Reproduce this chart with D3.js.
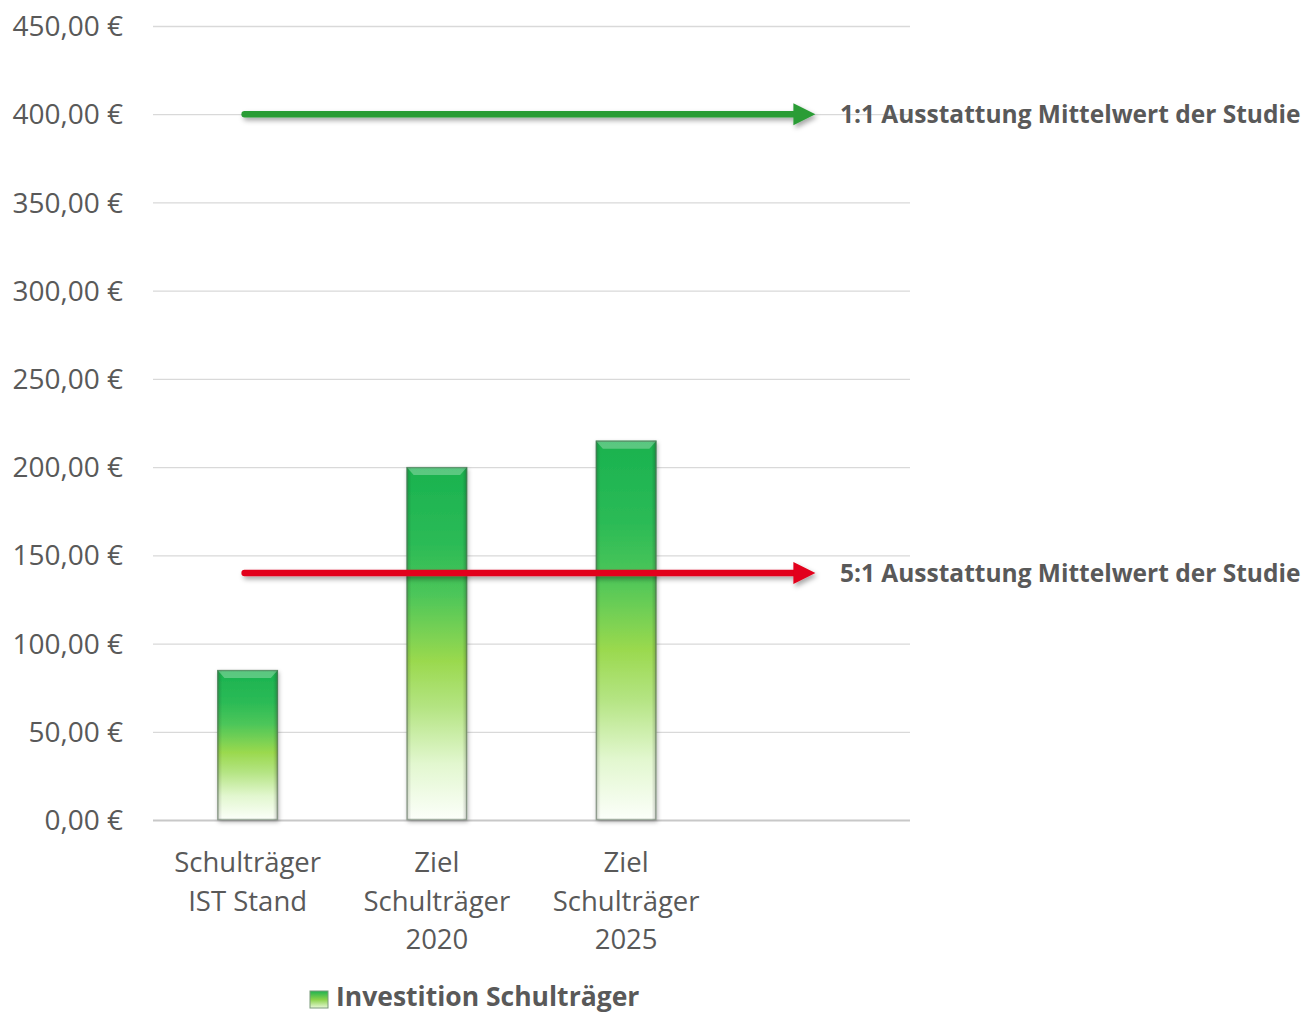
<!DOCTYPE html>
<html><head><meta charset="utf-8">
<script src="https://cdn.jsdelivr.net/npm/d3@7"></script>
<style>body{margin:0;background:#fff}svg{display:block}</style>
</head><body>
<svg id="chart" width="1306" height="1015"></svg>
<script>
const categories = [["Schulträger","IST Stand"],["Ziel","Schulträger","2020"],["Ziel","Schulträger","2025"],[""]];
const values = [85, 200, 215];
const yTicks = [0,50,100,150,200,250,300,350,400,450];
const refLines = [
  {value:400, label:"1:1 Ausstattung Mittelwert der Studie", color:"#2a9c36"},
  {value:140, label:"5:1 Ausstattung Mittelwert der Studie", color:"#e2001a"}
];
const legendLabel = "Investition Schulträger";

const svg = d3.select("#chart");
const font = "'Open Sans', sans-serif";
const txt = "#595959";
const x0 = 153, x1 = 910, yTop = 26, yBot = 820;

const x = d3.scaleBand().domain(d3.range(categories.length)).range([x0,x1]).paddingInner(0.68).paddingOuter(0.34);
const y = d3.scaleLinear().domain([0,450]).range([yBot,yTop]);

const defs = svg.append("defs");
const g = defs.append("linearGradient").attr("id","barGrad").attr("x1",0).attr("y1",0).attr("x2",0).attr("y2",1);
[[0,"#19b24f"],[0.22,"#2cbb56"],[0.36,"#4cc65a"],[0.55,"#9ad94e"],[0.68,"#b4e482"],[0.84,"#e2f7cf"],[1,"#fcfffa"]].forEach(([o,c])=>g.append("stop").attr("offset",o).attr("stop-color",c));
const sh = defs.append("linearGradient").attr("id","sideGrad").attr("x1",0).attr("y1",0).attr("x2",1).attr("y2",0);
[[0,"rgba(0,0,0,0.18)"],[0.08,"rgba(0,0,0,0)"],[0.92,"rgba(0,0,0,0)"],[1,"rgba(0,0,0,0.22)"]].forEach(([o,c])=>sh.append("stop").attr("offset",o).attr("stop-color",c));
const ds = defs.append("filter").attr("id","shadow").attr("x","-20%").attr("y","-20%").attr("width","140%").attr("height","140%");
ds.append("feDropShadow").attr("dx",1).attr("dy",2).attr("stdDeviation",2).attr("flood-color","#000").attr("flood-opacity",0.3);
const ds2 = defs.append("filter").attr("id","shadow2").attr("x","-5%").attr("y","-100%").attr("width","110%").attr("height","300%");
ds2.append("feDropShadow").attr("dx",2).attr("dy",3).attr("stdDeviation",2.5).attr("flood-color","#000").attr("flood-opacity",0.35);
const lg = defs.append("linearGradient").attr("id","legGrad").attr("x1",0).attr("y1",0).attr("x2",0).attr("y2",1);
[[0,"#1fb24f"],[0.5,"#8ad24a"],[1,"#e8f8d8"]].forEach(([o,c])=>lg.append("stop").attr("offset",o).attr("stop-color",c));

// gridlines
svg.append("g").selectAll("line").data(yTicks).join("line")
  .attr("x1",x0).attr("x2",x1).attr("y1",d=>y(d)+0.5).attr("y2",d=>y(d)+0.5)
  .attr("stroke",d=>d===0?"#c8c8c8":"#d9d9d9").attr("stroke-width",d=>d===0?2:1.3);

// y axis labels
const fmt = v => d3.format(".2f")(v).replace(".",",") + " €";
svg.append("g").selectAll("text").data(yTicks).join("text")
  .attr("x",123).attr("y",d=>y(d)).attr("dy","0.36em").attr("text-anchor","end")
  .attr("font-family",font).attr("font-size",28).attr("fill",txt).text(fmt);

// bars
const bars = svg.append("g");
values.forEach((v,i)=>{
  const bx = x(i), bw = x.bandwidth(), by = y(v), bh = y(0)-y(v);
  bars.append("rect").attr("x",bx).attr("y",by).attr("width",bw).attr("height",bh)
    .attr("fill","url(#barGrad)").attr("filter","url(#shadow)");
  bars.append("rect").attr("x",bx).attr("y",by).attr("width",bw).attr("height",bh).attr("fill","url(#sideGrad)");
  bars.append("path").attr("d",`M${bx},${by}L${bx+bw},${by}L${bx+bw-7},${by+8}L${bx+7},${by+8}Z`).attr("fill","rgba(255,255,255,0.28)");
  bars.append("rect").attr("x",bx+0.5).attr("y",by+0.5).attr("width",bw-1).attr("height",bh-1)
    .attr("fill","none").attr("stroke","rgba(90,110,90,0.55)").attr("stroke-width",1.5);
});

// category labels
svg.append("g").selectAll("text").data(categories).join("text")
  .attr("text-anchor","middle").attr("font-family",font).attr("font-size",27.5).attr("fill",txt)
  .each(function(lines,i){
    const t = d3.select(this);
    lines.forEach((l,k)=>t.append("tspan").attr("x",x(i)+x.bandwidth()/2).attr("y",872+k*38.5).text(l));
  });

// reference arrows
const ax0 = x(0)+x.bandwidth()/2 - 3, axTip = x(3)+x.bandwidth()/2;
refLines.forEach(r=>{
  const yy = y(r.value);
  const gg = svg.append("g").attr("filter","url(#shadow2)");
  gg.append("line").attr("x1",ax0).attr("x2",axTip-20).attr("y1",yy).attr("y2",yy)
    .attr("stroke",r.color).attr("stroke-width",6.5).attr("stroke-linecap","round");
  gg.append("path").attr("d",`M${axTip-22},${yy-11}L${axTip},${yy}L${axTip-22},${yy+11}Z`).attr("fill",r.color);
  svg.append("text").attr("x",840).attr("y",yy).attr("dy","0.36em")
    .attr("font-family",font).attr("font-weight","bold").attr("font-size",24.5).attr("fill",txt).text(r.label);
});

// legend
svg.append("rect").attr("x",310).attr("y",991).attr("width",18).attr("height",17)
  .attr("fill","url(#legGrad)").attr("stroke","#7a9a7a").attr("stroke-width",1);
svg.append("text").attr("x",336).attr("y",1006)
  .attr("font-family",font).attr("font-weight","bold").attr("font-size",26.5).attr("fill",txt).text(legendLabel);
</script>
</body></html>
